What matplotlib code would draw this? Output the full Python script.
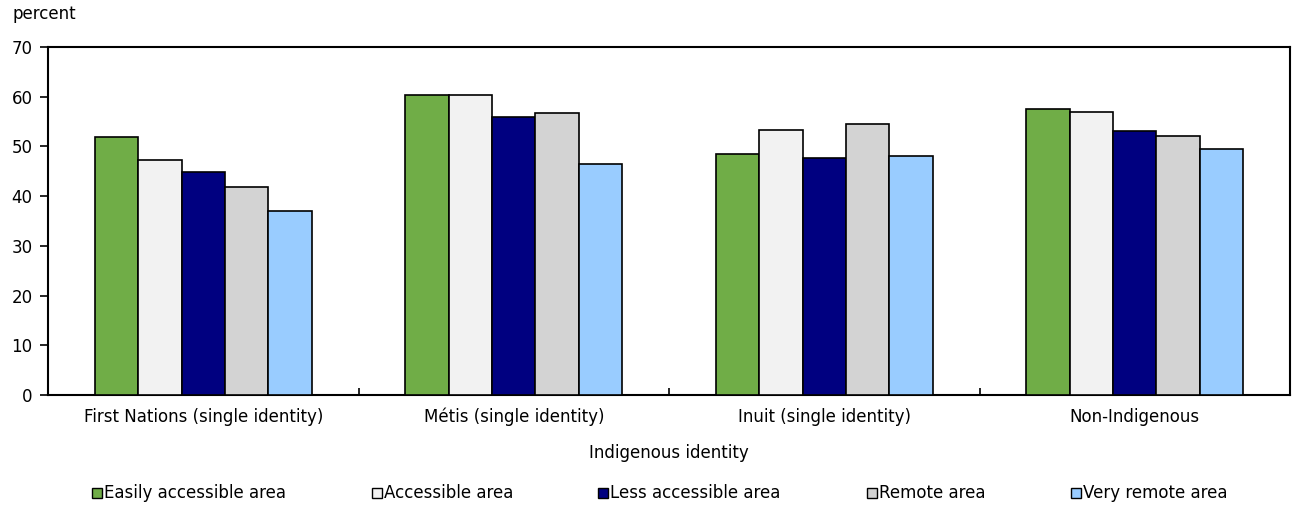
import numpy as np
import matplotlib
matplotlib.use("Agg")
import matplotlib.pyplot as plt
from matplotlib.patches import Rectangle

categories = ["First Nations (single identity)", "Métis (single identity)",
              "Inuit (single identity)", "Non-Indigenous"]
series_names = ["Easily accessible area", "Accessible area", "Less accessible area",
                "Remote area", "Very remote area"]
easily_accessible = [51.8, 60.4, 48.5, 57.5]
accessible = [47.3, 60.4, 53.4, 57.0]
less_accessible = [44.9, 56.0, 47.7, 53.1]
remote = [41.9, 56.8, 54.5, 52.1]
very_remote = [37.0, 46.5, 48.1, 49.5]
series_values = [easily_accessible, accessible, less_accessible, remote, very_remote]
colors = ["#70AD47", "#F2F2F2", "#000080", "#D3D3D3", "#99CCFF"]
y_ticks = [0, 10, 20, 30, 40, 50, 60, 70]

FS = 12
plt.rcParams["font.family"] = ["DejaVu Sans"]
fig = plt.figure(figsize=(13.02, 5.05), dpi=100)
ax = fig.add_axes([48 / 1302, 1 - 395 / 505, (1290 - 48) / 1302, (395 - 47) / 505])

n = len(series_names)
bw = 0.14
centers = np.arange(len(categories)) + 0.5
for i, (vals, c) in enumerate(zip(series_values, colors)):
    x = centers + (i - (n - 1) / 2) * bw
    ax.bar(x, vals, width=bw, color=c, edgecolor="black", linewidth=1.2, zorder=3)

ax.set_xlim(0, len(categories))
ax.set_ylim(0, 70)
ax.set_yticks(y_ticks)
ax.set_xticks(centers)
ax.set_xticklabels(categories, fontsize=FS)
ax.set_xticks(np.arange(1, len(categories)), minor=True)
ax.tick_params(axis="x", which="major", length=0, pad=9)
ax.tick_params(axis="x", which="minor", direction="in", length=5, width=1.2)
ax.tick_params(axis="y", direction="out", length=6, width=1.2, labelsize=FS, pad=5)
for s in ax.spines.values():
    s.set_linewidth(1.5)

fig.text(0.5 * (48 + 1290) / 1302, 1 - 453 / 505, "Indigenous identity",
         fontsize=FS, va="center", ha="center")
fig.text(12 / 1302, 1 - 14 / 505, "percent", fontsize=FS, va="center", ha="left")

# legend entries laid out along the bottom
leg_x = [92, 372, 598, 867, 1071]
leg_y = 493
sq = 10
for xpx, name, c in zip(leg_x, series_names, colors):
    fig.patches.append(Rectangle((xpx / 1302, 1 - (leg_y + sq / 2) / 505), sq / 1302, sq / 505,
                                 transform=fig.transFigure, facecolor=c,
                                 edgecolor="black", linewidth=1.0))
    fig.text((xpx + sq + 2) / 1302, 1 - leg_y / 505, name, fontsize=FS,
             va="center", ha="left")

fig.savefig("out.png", dpi=100)
